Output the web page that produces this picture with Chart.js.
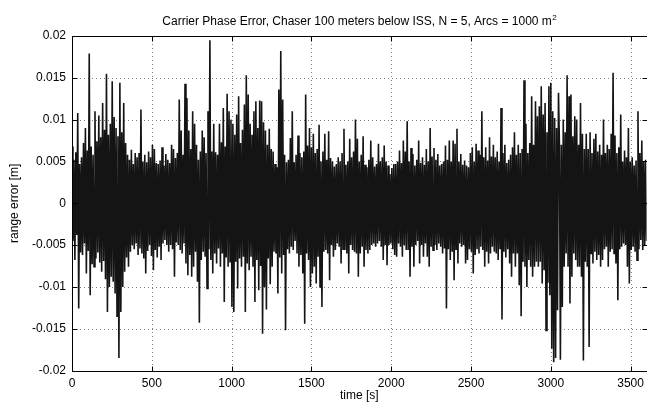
<!DOCTYPE html>
<html><head><meta charset="utf-8">
<script src="https://cdn.jsdelivr.net/npm/chart.js@4/dist/chart.umd.min.js"></script>
<style>html,body{margin:0;padding:0;background:#fff;overflow:hidden;width:647px;height:405px}canvas{display:block}</style>
</head><body>
<canvas id="c" width="650" height="405" style="width:650px;height:405px"></canvas>
<script>
const chartTitle = 'Carrier Phase Error, Chaser 100 meters below ISS, N = 5, Arcs = 1000 m';
const titleSup = '2';
const xAxisLabel = 'time [s]';
const yAxisLabel = 'range error [m]';
const sampleStart = 0;   // s
const sampleStep = 6;    // s between plotted samples
const xTickValues = [0, 500, 1000, 1500, 2000, 2500, 3000, 3500];
const yTickValues = [-0.02, -0.015, -0.01, -0.005, 0, 0.005, 0.01, 0.015, 0.02];
const yTickLabels = ['-0.02', '-0.015', '-0.01', '-0.005', '0', '0.005', '0.01', '0.015', '0.02'];

// range error [m], one value every 6 s (0 .. 3600 s)
const rangeError = [
 .0068,-.0045,.0052,-.0068,.0061,-.0038,.0108,-.0126,.0047,-.0059,
 .0055,-.0062,.0072,-.0048,.0090,-.0084,.0063,-.0057,.0179,-.0110,
 .0068,-.0073,.0058,-.0076,.0110,-.0066,.0074,-.0059,.0105,-.0071,
 .0079,-.0082,.0120,-.0069,.0088,-.0091,.0155,-.0130,.0082,-.0100,
 .0095,-.0088,.0146,-.0094,.0103,-.0108,.0090,-.0135,.0080,-.0185,
 .0144,-.0130,.0085,-.0100,.0120,-.0082,.0072,-.0065,.0058,-.0076,
 .0052,-.0058,.0064,-.0050,.0047,-.0055,.0060,-.0048,.0055,-.0062,
 .0060,-.0054,.0112,-.0060,.0050,-.0066,.0058,-.0084,.0049,-.0057,
 .0062,-.0050,.0055,-.0063,.0070,-.0080,.0065,-.0056,.0048,-.0065,
 .0047,-.0052,.0051,-.0068,.0067,-.0048,.0045,-.0044,.0059,-.0050,
 .0052,-.0058,.0048,-.0050,.0070,-.0055,.0065,-.0088,.0054,-.0047,
 .0060,-.0050,.0124,-.0056,.0087,-.0060,.0058,-.0048,.0143,-.0072,
 .0126,-.0086,.0087,-.0062,.0065,-.0088,.0110,-.0076,.0095,-.0058,
 .0070,-.0094,.0052,-.0143,.0062,-.0068,.0087,-.0058,.0079,-.0064,
 .0060,-.0102,.0110,-.0055,.0195,-.0068,.0062,-.0084,.0095,-.0060,
 .0061,-.0072,.0058,-.0054,.0095,-.0076,.0073,-.0060,.0114,-.0118,
 .0068,-.0065,.0131,-.0076,.0110,-.0070,.0100,-.0124,.0095,-.0130,
 .0082,-.0070,.0106,-.0102,.0128,-.0066,.0072,-.0076,.0088,-.0064,
 .0118,-.0130,.0153,-.0072,.0130,-.0080,.0095,-.0064,.0082,-.0076,
 .0110,-.0118,.0122,-.0068,.0090,-.0104,.0123,-.0075,.0122,-.0156,
 .0097,-.0100,.0087,-.0127,.0070,-.0066,.0089,-.0097,.0065,-.0076,
 .0062,-.0058,.0047,-.0060,.0043,-.0108,.0136,-.0065,.0182,-.0084,
 .0124,-.0062,.0058,-.0152,.0049,-.0055,.0052,-.0060,.0078,-.0052,
 .0110,-.0056,.0049,-.0045,.0058,-.0060,.0081,-.0076,.0060,-.0062,
 .0055,-.0084,.0062,-.0144,.0130,-.0060,.0069,-.0068,.0090,-.0100,
 .0067,-.0084,.0083,-.0076,.0060,-.0096,.0065,-.0064,.0094,-.0100,
 .0050,-.0124,.0062,-.0058,.0083,-.0056,.0052,-.0060,.0086,-.0092,
 .0054,-.0050,.0050,-.0064,.0044,-.0056,.0047,-.0048,.0055,-.0052,
 .0050,-.0072,.0060,-.0055,.0089,-.0056,.0046,-.0060,.0050,-.0084,
 .0077,-.0050,.0055,-.0056,.0062,-.0058,.0100,-.0060,.0077,-.0088,
 .0050,-.0060,.0058,-.0052,.0080,-.0076,.0046,-.0056,.0043,-.0060,
 .0052,-.0056,.0075,-.0050,.0055,-.0048,.0044,-.0052,.0047,-.0048,
 .0071,-.0045,.0050,-.0052,.0055,-.0068,.0069,-.0050,.0050,-.0074,
 .0045,-.0050,.0035,-.0048,.0042,-.0055,.0047,-.0062,.0047,-.0064,
 .0050,-.0048,.0063,-.0052,.0048,-.0064,.0075,-.0050,.0062,-.0056,
 .0098,-.0056,.0050,-.0088,.0066,-.0052,.0059,-.0076,.0045,-.0050,
 .0052,-.0045,.0075,-.0072,.0048,-.0050,.0055,-.0064,.0046,-.0048,
 .0065,-.0064,.0050,-.0076,.0090,-.0052,.0056,-.0056,.0066,-.0050,
 .0052,-.0056,.0059,-.0048,.0045,-.0052,.0047,-.0060,.0050,-.0054,
 .0069,-.0126,.0052,-.0055,.0075,-.0068,.0050,-.0058,.0075,-.0092,
 .0071,-.0055,.0089,-.0072,.0050,-.0048,.0059,-.0052,.0046,-.0050,
 .0051,-.0072,.0045,-.0068,.0043,-.0055,.0060,-.0058,.0067,-.0084,
 .0050,-.0062,.0071,-.0055,.0063,-.0060,.0058,-.0052,.0110,-.0056,
 .0055,-.0076,.0067,-.0058,.0051,-.0072,.0079,-.0060,.0056,-.0052,
 .0070,-.0058,.0055,-.0060,.0062,-.0068,.0050,-.0055,.0114,-.0139,
 .0060,-.0058,.0070,-.0065,.0048,-.0055,.0052,-.0072,.0058,-.0088,
 .0067,-.0060,.0085,-.0076,.0058,-.0060,.0070,-.0098,.0060,-.0135,
 .0065,-.0070,.0147,-.0076,.0095,-.0100,.0060,-.0068,.0072,-.0076,
 .0128,-.0088,.0070,-.0076,.0122,-.0070,.0104,-.0076,.0116,-.0070,
 .0140,-.0096,.0106,-.0080,.0120,-.0152,.0085,-.0095,.0140,-.0110,
 .0144,-.0174,.0110,-.0190,.0102,-.0185,.0090,-.0128,.0132,.0070,
 -.0187,.0070,-.0124,.0100,-.0076,.0085,-.0060,.0153,-.0076,.0128,
 -.0120,.0130,-.0088,.0080,-.0060,.0104,-.0068,.0100,-.0076,.0070,
 -.0076,.0120,-.0088,.0083,-.0188,.0065,-.0070,.0083,-.0076,.0065,
 -.0172,.0085,-.0060,.0060,-.0072,.0077,-.0058,.0083,-.0068,.0062,
 -.0062,.0070,-.0076,.0058,-.0068,.0100,-.0055,.0060,-.0052,.0070,
 -.0076,.0065,-.0058,.0083,-.0055,.0156,-.0060,.0081,-.0072,.0060,
 -.0116,.0067,-.0055,.0106,-.0052,.0050,-.0048,.0063,-.0050,.0055,
 -.0076,.0090,-.0096,.0050,-.0056,.0055,-.0052,.0045,-.0058,.0051,
 -.0068,.0110,-.0055,.0060,-.0044,.0075,-.0056,.0050,-.0050,.0052,-.0045
];

const FONT = "'Liberation Sans', Arial, Helvetica, sans-serif";
const points = rangeError.map((v, i) => ({ x: sampleStart + i * sampleStep, y: v }));

const matlabAxes = {
  id: 'matlabAxes',
  beforeDatasetsDraw(chart) {
    const { ctx, chartArea: a, scales: { x, y } } = chart;
    ctx.save();
    ctx.strokeStyle = '#808080';
    ctx.lineWidth = 1;
    ctx.setLineDash([1, 3]);
    xTickValues.forEach(v => {
      const px = Math.round(x.getPixelForValue(v)) + 0.5;
      if (px <= a.left + 1 || px >= a.right - 1) return;
      ctx.beginPath(); ctx.moveTo(px, a.top); ctx.lineTo(px, a.bottom); ctx.stroke();
    });
    yTickValues.forEach(v => {
      const py = Math.round(y.getPixelForValue(v)) + 0.5;
      if (py <= a.top + 1 || py >= a.bottom - 1) return;
      ctx.beginPath(); ctx.moveTo(a.left, py); ctx.lineTo(a.right, py); ctx.stroke();
    });
    ctx.restore();
  },
  afterDatasetsDraw(chart) {
    const { ctx, chartArea: a, scales: { x, y } } = chart;
    const L = Math.round(a.left) + 0.5, R = Math.round(a.right) + 0.5;
    const T = Math.round(a.top) + 0.5, B = Math.round(a.bottom) + 0.5;
    ctx.save();
    ctx.strokeStyle = '#000';
    ctx.lineWidth = 1;
    ctx.setLineDash([]);
    ctx.strokeRect(L, T, R - L, B - T);
    const tl = 5;
    ctx.beginPath();
    xTickValues.forEach(v => {
      const px = Math.round(x.getPixelForValue(v)) + 0.5;
      ctx.moveTo(px, B); ctx.lineTo(px, B - tl);
      ctx.moveTo(px, T); ctx.lineTo(px, T + tl);
    });
    yTickValues.forEach(v => {
      const py = Math.round(y.getPixelForValue(v)) + 0.5;
      ctx.moveTo(L, py); ctx.lineTo(L + tl, py);
      ctx.moveTo(R, py); ctx.lineTo(R - tl, py);
    });
    ctx.stroke();
    ctx.restore();
  },
  afterDraw(chart) {
    const { ctx, chartArea: a } = chart;
    ctx.save();
    ctx.fillStyle = '#000';
    ctx.textBaseline = 'alphabetic';
    ctx.textAlign = 'left';
    const mainFont = '12px ' + FONT, supFont = '8px ' + FONT;
    ctx.font = mainFont;
    const w1 = ctx.measureText(chartTitle).width;
    ctx.font = supFont;
    const w2 = ctx.measureText(titleSup).width;
    const cx = (a.left + a.right) / 2;
    const x0 = cx - (w1 + w2) / 2;
    const base = 25;
    ctx.font = mainFont;
    ctx.fillText(chartTitle, x0, base);
    ctx.font = supFont;
    ctx.fillText(titleSup, x0 + w1 + 0.5, base - 5);
    ctx.restore();
  }
};

new Chart(document.getElementById('c').getContext('2d'), {
  type: 'line',
  data: { datasets: [{ data: points, borderColor: '#141414', borderWidth: 1.6, pointRadius: 0, fill: false, tension: 0 }] },
  options: {
    responsive: false, animation: false, devicePixelRatio: 1,
    layout: { padding: { top: 36, right: 1, bottom: 0, left: 0 } },
    plugins: { legend: { display: false }, tooltip: { enabled: false }, title: { display: false } },
    scales: {
      x: {
        type: 'linear', min: 0, max: 3600,
        afterBuildTicks: s => { s.ticks = xTickValues.map(v => ({ value: v })); },
        afterFit: s => { s.height = 34.5; },
        grid: { display: false, drawTicks: false }, border: { display: false },
        ticks: { color: '#000', font: { family: FONT, size: 12 }, padding: 6, maxRotation: 0, autoSkip: false, callback: v => String(v) },
        title: { display: true, text: xAxisLabel, color: '#000', font: { family: FONT, size: 12 }, padding: { top: 0, bottom: 2 } }
      },
      y: {
        type: 'linear', min: -0.02, max: 0.02,
        afterBuildTicks: s => { s.ticks = yTickValues.map(v => ({ value: v })); },
        afterFit: s => { s.width = 72; },
        grid: { display: false, drawTicks: false }, border: { display: false },
        ticks: { color: '#000', font: { family: FONT, size: 12 }, padding: 6, autoSkip: false,
                 callback: (v, i) => yTickLabels[i] },
        title: { display: true, text: yAxisLabel, color: '#000', font: { family: FONT, size: 12 }, padding: { top: 7, bottom: 0 } }
      }
    }
  },
  plugins: [matlabAxes]
});
</script>
</body></html>
